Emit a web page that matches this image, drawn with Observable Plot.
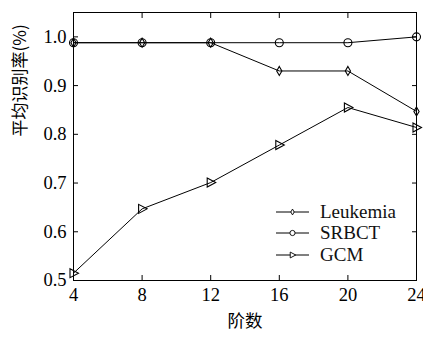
<!DOCTYPE html>
<html>
<head>
<meta charset="utf-8">
<script src="https://cdn.jsdelivr.net/npm/d3@7"></script>
<script src="https://cdn.jsdelivr.net/npm/@observablehq/plot@0.6"></script>
<style>
  html, body { margin: 0; padding: 0; background: #fff; }
  #wrap { position: relative; width: 423px; height: 338px; overflow: hidden; }
  #legend { position: absolute; left: 276px; top: 201px; font-family: "Liberation Serif", serif; font-size: 19px; color: #111; }
  #legend .row { display: flex; align-items: center; height: 21.5px; }
  #legend svg { display: block; margin-right: 11px; }
</style>
</head>
<body>
<div id="wrap"></div>
<script>
const orders = [4, 8, 12, 16, 20, 24];
const leukemia = [0.988, 0.988, 0.988, 0.930, 0.930, 0.847];
const srbct    = [0.988, 0.988, 0.988, 0.988, 0.988, 1.000];
const gcm      = [0.515, 0.647, 0.701, 0.778, 0.855, 0.814];
const seriesNames = ["Leukemia", "SRBCT", "GCM"];
const xTicks = [4, 8, 12, 16, 20, 24];
const yTicks = [0.5, 0.6, 0.7, 0.8, 0.9, 1.0];
const yLabel = "平均识别率(%)";
const xLabel = "阶数";

const diamondThin = { draw(ctx) { ctx.moveTo(0, -4.5); ctx.lineTo(2.6, 0); ctx.lineTo(0, 4.5); ctx.lineTo(-2.6, 0); ctx.closePath(); } };
const circleSym = { draw(ctx) { ctx.moveTo(4, 0); ctx.arc(0, 0, 4, 0, 2 * Math.PI); } };
const triRight = { draw(ctx) { ctx.moveTo(-3.5, -4.5); ctx.lineTo(5, 0); ctx.lineTo(-3.5, 4.5); ctx.closePath(); } };
const symbols = [diamondThin, circleSym, triRight];

const values = [leukemia, srbct, gcm];
const data = [];
values.forEach((vals, si) => vals.forEach((v, i) => data.push({series: seriesNames[si], x: orders[i], y: v, si})));

const serif = "'Liberation Serif', 'Times New Roman', serif";
const cjk = "'Noto Sans CJK SC', sans-serif";

const marks = [
  Plot.frame({stroke: "black", strokeWidth: 1}),
  Plot.axisX({anchor: "bottom", ticks: xTicks, tickSize: -5, tickPadding: 12, fontSize: 18.5, fontFamily: serif, label: null, tickFormat: d3.format("d")}),
  Plot.axisX({anchor: "top", ticks: xTicks, tickSize: -5, tickFormat: () => "", label: null}),
  Plot.axisY({anchor: "left", ticks: yTicks, tickSize: -5, tickPadding: 12, fontSize: 18.5, fontFamily: serif, label: null, tickFormat: d3.format(".1f")}),
  Plot.axisY({anchor: "right", ticks: yTicks, tickSize: -5, tickFormat: () => "", label: null}),
];
seriesNames.forEach((name, si) => {
  const d = data.filter(r => r.si === si);
  marks.push(Plot.line(d, {x: "x", y: "y", stroke: "black", strokeWidth: 1}));
  marks.push(Plot.dot(d, {x: "x", y: "y", symbol: () => symbols[si], stroke: "black", strokeWidth: 1.1, fill: "none", r: 4}));
});
marks.push(Plot.text([yLabel], {frameAnchor: "left", rotate: -90, dx: -53, dy: -10, fontSize: 17, fontFamily: cjk, fill: "black"}));
marks.push(Plot.text([xLabel], {frameAnchor: "bottom", dy: 46, fontSize: 17.5, fontFamily: cjk, fill: "black"}));

const chart = Plot.plot({
  width: 423,
  height: 338,
  marginLeft: 73,
  marginRight: 7,
  marginTop: 12,
  marginBottom: 58,
  x: {domain: [4, 24]},
  y: {domain: [0.5, 1.05]},
  style: {background: "white", color: "black", overflow: "visible"},
  marks
});
document.getElementById("wrap").appendChild(chart);

// legend
const legend = document.createElement("div");
legend.id = "legend";
seriesNames.forEach((name, si) => {
  const row = document.createElement("div");
  row.className = "row";
  const svg = d3.create("svg").attr("width", 33).attr("height", 14);
  svg.append("line").attr("x1", 0).attr("x2", 33).attr("y1", 7).attr("y2", 7).attr("stroke", "black");
  const path = d3.path();
  symbols[si].draw(path);
  svg.append("path").attr("d", path.toString()).attr("transform", "translate(16.5,7) scale(0.65)").attr("fill", "white").attr("stroke", "black").attr("stroke-width", 1.4);
  row.appendChild(svg.node());
  const t = document.createElement("span");
  t.textContent = name;
  row.appendChild(t);
  legend.appendChild(row);
});
document.getElementById("wrap").appendChild(legend);
</script>
</body>
</html>
